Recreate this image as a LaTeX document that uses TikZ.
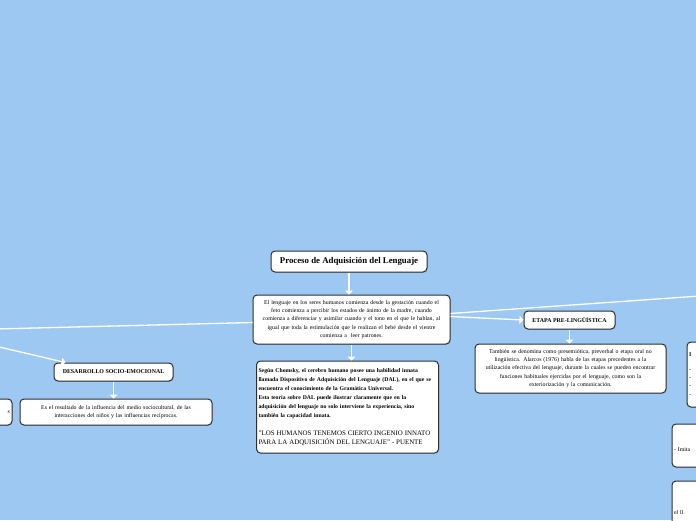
\documentclass[tikz,border=0pt]{standalone}
\usepackage{fontspec}
\setmainfont{Liberation Serif}
\usepackage{xcolor}
\usepackage{tikz}
\usetikzlibrary{arrows.meta, shadows, positioning}

\definecolor{mapblue}{RGB}{156,200,242}
\definecolor{boxline}{RGB}{45,45,52}

\tikzset{
  mapbox/.style={draw=boxline, line width=1pt, fill=white, rounded corners=4pt,
    inner sep=2pt, drop shadow={shadow xshift=0.6pt, shadow yshift=-0.8pt, opacity=0.35}},
  headbox/.style={mapbox, align=center, font=\fontsize{5.9}{7}\selectfont\bfseries},
  textbox/.style={mapbox, align=center, font=\fontsize{5.85}{8.3}\selectfont},
  link/.style={draw=white, line width=1.3pt},
  linkarrow/.style={link, -{Triangle[width=8pt,length=4pt]}}
}

\begin{document}
\begin{tikzpicture}[x=1pt, y=-1pt]
  % canvas
  \useasboundingbox (0,0) rectangle (696,520);
  \fill[mapblue] (0,0) rectangle (696,520);
  \clip (0,0) rectangle (696,520);

  % ---- centre ----
  \node[mapbox, minimum width=156pt, minimum height=21pt,
        font=\fontsize{8.8}{10}\selectfont\bfseries] (title) at (349,261.5)
        {Proceso de Adquisición del Lenguaje};

  \node[textbox, text width=193pt, minimum height=49pt] (origen) at (351.5,319.5)
        {El lenguaje en los seres humanos comienza desde la gestación cuando el\\
         feto comienza a percibir los estados de ánimo de la madre, cuando\\
         comienza a diferenciar y asimilar cuando y el tono en el que le hablan, al\\
         igual que toda la estimulación que le realizan el bebé desde el vientre\\
         comienza a\ \ leer patrones.};

  \node[mapbox, text width=178pt, minimum height=92pt, align=left,
        font=\fontsize{5.75}{9}\selectfont] (chomsky) at (347.5,407)
        {\bfseries Según Chomsky, el cerebro humano posee una habilidad innata\\
         llamada Dispositivo de Adquisición del Lenguaje (DAL), en el que se\\
         encuentra el conocimiento de la Gramática Universal.\\
         Esta teoría sobre DAL puede ilustrar claramente que en la\\
         adquisición del lenguaje no solo interviene la experiencia, sino\\
         también la capacidad innata.\\[9pt]
         \mdseries\fontsize{6.9}{9}\selectfont ''LOS HUMANOS TENEMOS CIERTO INGENIO INNATO\\
         PARA LA ADQUISICIÓN DEL LENGUAJE'' - PUENTE};

  % ---- etapa pre-linguistica ----
  \node[headbox, minimum width=91pt, minimum height=18pt] (prelin) at (569.5,320)
        {ETAPA PRE-LINGÜÍSTICA};
  \node[textbox, text width=187pt, minimum height=49pt] (prelintxt) at (570.5,368.5)
        {También se denomina como presemiótica, preverbal o etapa oral no\\
         lingüística. Alarcos (1976) habla de las etapas precedentes a la\\
         utilización efectiva del lenguaje, durante la cuales se pueden encontrar\\
         funciones habituales ejercidas por el lenguaje, como son la\\
         exteriorización y la comunicación.};

  % ---- desarrollo socio-emocional ----
  \node[headbox, minimum width=119pt, minimum height=18pt] (socio) at (113.5,372)
        {DESARROLLO SOCIO-EMOCIONAL};
  \node[textbox, text width=188pt, minimum height=26pt] (sociotxt) at (116,412)
        {Es el resultado de la influencia del medio sociocultural, de las\\
         interacciones del niños y las influencias recíprocas.};

  % ---- boxes cut by the edges ----
  \node[textbox, text width=48pt, minimum height=26pt, align=right] (leftcut) at (-14,412)
        {s\hspace*{8pt}\\[1pt]};
  \node[textbox, text width=69pt, minimum height=65pt, align=left] (rightcutA) at (723.5,374.5)
        {\textbf{I}\\[6pt] -\\ -\\ -\\ -};
  \node[textbox, text width=86pt, minimum height=43pt, align=left] (rightcutB) at (717,445.5)
        {\\[3pt]- Imita};
  \node[textbox, text width=86pt, minimum height=79pt, align=left] (rightcutC) at (717,520.5)
        {el ll\\[7pt]~};

  % free ends outside the canvas
  \coordinate (farright) at (700,296);
  \coordinate (farleft) at (-5,329);
  \coordinate (farleftB) at (-5,346);

  % ---- connectors ----
  \draw[linkarrow] (title.south) -- (title.south |- origen.north);
  \draw[linkarrow] (origen.south) -- (origen.south |- chomsky.north);
  \draw[linkarrow] ([yshift=3pt]origen.east) -- (prelin.west);
  \draw[link] ([yshift=6pt]origen.east) -- (farright);
  \draw[link] ([yshift=-3pt]origen.west) -- (farleft);
  \draw[linkarrow] (farleftB) -- ([xshift=-48pt]socio.north);
  \draw[linkarrow] (prelin.south) -- (prelin.south |- prelintxt.north);
  \draw[linkarrow] (socio.south) -- (socio.south |- sociotxt.north);
\end{tikzpicture}
\end{document}
